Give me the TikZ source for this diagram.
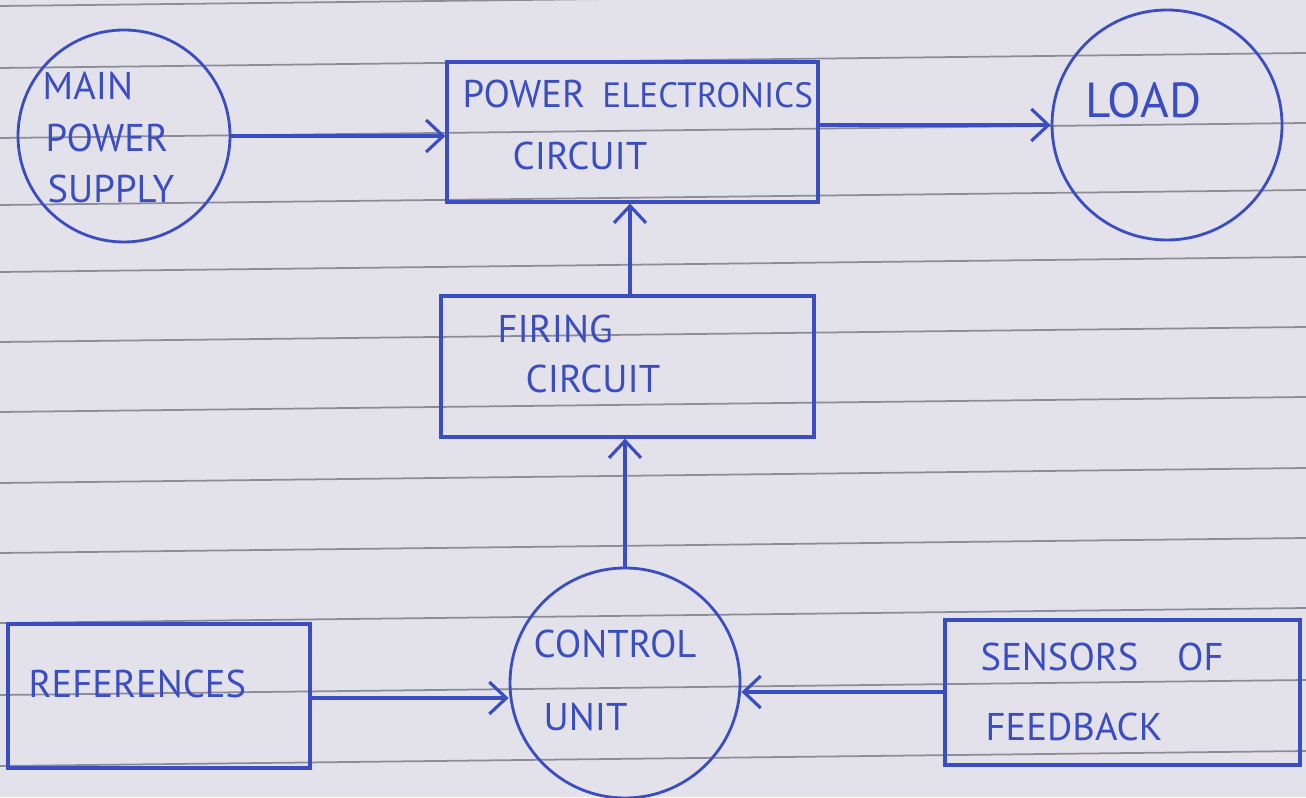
\documentclass[tikz,border=0pt]{standalone}
\usepackage{xcolor}
\usepackage{fontspec}
\usepackage{tikz}
\usetikzlibrary{positioning, shapes.geometric, arrows.meta, calc}
\newfontfamily\handfont{PT Sans}
\definecolor{pgPaper}{HTML}{E3E2EB}
\definecolor{pgRule}{HTML}{8C8C96}
\definecolor{pgInk}{HTML}{3A4DC2}
\tikzset{
  ruleline/.style={pgRule, line width=0.5pt},
  blockbox/.style={
    rectangle, draw=pgInk, line width=0.9pt,
    inner sep=0pt
  },
  blockcircle/.style={
    circle, draw=pgInk, line width=0.8pt,
    inner sep=0pt
  },
  inklabel/.style={
    font=\handfont\fontsize{11}{13}\selectfont,
    text=pgInk, inner sep=0pt, anchor=base west
  },
  arrow/.style={
    -{Straight Barb[length=1.7mm, width=3.2mm]},
    pgInk, line width=0.9pt
  }
}

\begin{document}
\begin{tikzpicture}
      % Paper
      \fill[pgPaper] (0,0) rectangle (13.06,7.97);
      \useasboundingbox (0,0) rectangle (13.06,7.97);
      \foreach \ly in {7.91, 7.29, 6.59, 5.92, 5.25, 4.55, 3.85, 3.14, 2.44, 1.74, 1.02, 0.31}
        \draw[ruleline] (0,\ly) -- (13.06,\ly+0.15);
      % Top row
      \node[blockcircle, minimum size=2.12cm] (mainsupply) at (1.24, 6.61) {};
      \node[blockbox, minimum width=3.71cm, minimum height=1.40cm] (pecircuit) at (6.325, 6.65) {};
      \node[blockcircle, minimum size=2.30cm] (load) at (11.67, 6.72) {};
      % Middle
      \node[blockbox, minimum width=3.73cm, minimum height=1.41cm] (firing) at (6.275, 4.305) {};
      % Bottom row
      \node[blockbox, minimum width=3.02cm, minimum height=1.44cm] (refs) at (1.59, 1.01) {};
      \node[blockcircle, minimum size=2.30cm] (control) at (6.25, 1.14) {};
      \node[blockbox, minimum width=3.55cm, minimum height=1.45cm] (sensors) at (11.225, 1.045) {};
      % Labels
      \node[inklabel] (lmain) at (0.42, 6.97) {MAIN};
      \node[inklabel] (lpower) at (0.45, 6.45) {POWER};
      \node[inklabel] (lsupply) at (0.47, 5.94) {SUPPLY};
      \node[inklabel] (lpe) at (4.62, 6.89) {POWER\hspace{0.45em}{\fontsize{10}{12}\selectfont ELECTRONICS}};
      \node[inklabel] (lpecirc) at (5.12, 6.27) {CIRCUIT};
      \node[inklabel, font=\handfont\fontsize{14}{16}\selectfont] (lload) at (10.85, 6.79) {LOAD};
      \node[inklabel] (lfiring) at (4.97, 4.54) {FIRING};
      \node[inklabel] (lfirecirc) at (5.25, 4.04) {CIRCUIT};
      \node[inklabel] (lcontrol) at (5.33, 1.40) {CONTROL};
      \node[inklabel] (lunit) at (5.43, 0.67) {UNIT};
      \node[inklabel] (lrefs) at (0.28, 1.00) {REFERENCES};
      \node[inklabel] (lsensors) at (9.80, 1.27) {SENSORS\hspace{1em}OF};
      \node[inklabel] (lfeedback) at (9.85, 0.57) {FEEDBACK};
      % Arrows
      \draw[arrow] (mainsupply.east) -- (mainsupply.east -| pecircuit.west);
      \draw[arrow] (pecircuit.east |- load.west) -- (load.west);
      \draw[arrow] (firing.north -| 6.30,0) -- (pecircuit.south -| 6.30,0);
      \draw[arrow] (control.north) -- (control.north |- firing.south);
      \draw[arrow] (refs.east |- 0,0.99) -- (control.west |- 0,0.99);
      \draw[arrow] (sensors.west |- 0,1.05) -- (control.east |- 0,1.05);
    \end{tikzpicture}
\end{document}
